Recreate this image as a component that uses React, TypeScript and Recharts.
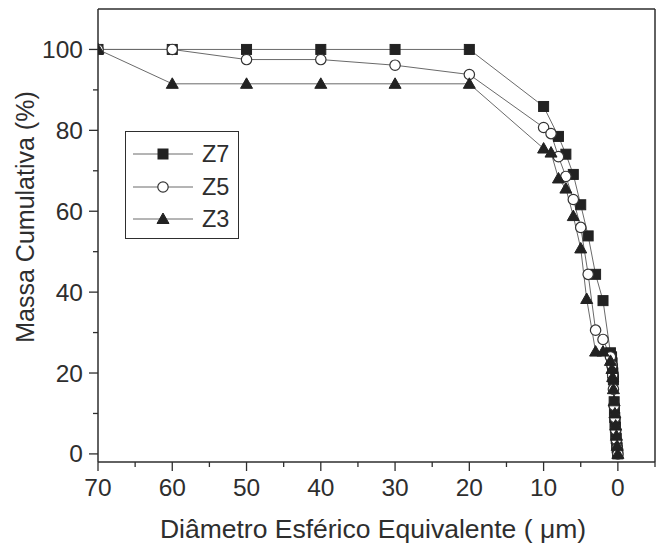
import React from "react";
import { LineChart, Line, XAxis, YAxis, ReferenceLine, Legend } from "recharts";

// diameter (µm) and cumulative mass (%) for each sample
const z7X = [70, 60, 50, 40, 30, 20, 10, 8, 7, 6, 5, 4, 3, 2, 1, 0.85, 0.78, 0.72, 0.68, 0.64, 0.6, 0.5, 0.46, 0.42, 0.38, 0.33, 0.28, 0.22, 0.16, 0.1, 0.05, 0];
const z7Y = [100, 100, 100, 100, 100, 100, 85.9, 78.5, 74.1, 69.1, 61.6, 53.9, 44.4, 37.9, 25, 24, 22.5, 21, 20, 19, 18.3, 12.9, 10.5, 9, 7.5, 6.6, 5, 3.8, 2.5, 1.5, 0.7, 0];

const z5X = [70, 60, 50, 40, 30, 20, 10, 9, 8, 7, 6, 5, 4, 3, 2, 1, 0.8, 0.7, 0.6, 0.5, 0.4, 0.3, 0.2, 0.1, 0];
const z5Y = [100, 100, 97.5, 97.5, 96.1, 93.8, 80.7, 79.2, 73.5, 68.6, 62.9, 56, 44.4, 30.6, 28.3, 24, 22, 19.5, 16, 12, 9, 6, 3.5, 1.5, 0];

const z3X = [70, 60, 50, 40, 30, 20, 10, 9, 8, 7, 6, 5, 4.2, 3, 2, 1, 0.8, 0.7, 0.6, 0.5, 0.4, 0.3, 0.2, 0.1, 0];
const z3Y = [100, 91.5, 91.5, 91.5, 91.5, 91.5, 75.5, 74.5, 68.1, 65.6, 58.8, 50.8, 38.3, 25.3, 25.3, 23, 21, 19, 16, 13, 10, 7, 4.5, 2, 0];

const xTicks = [70, 65, 60, 55, 50, 45, 40, 35, 30, 25, 20, 15, 10, 5, 0, -5];
const xLabels = [70, 60, 50, 40, 30, 20, 10, 0];
const yTicks = [0, 10, 20, 30, 40, 50, 60, 70, 80, 90, 100];
const yLabels = [0, 20, 40, 60, 80, 100];

const zip = (xs: number[], ys: number[]) => xs.map((x, i) => ({ x, y: ys[i] }));

const FONT = "'Liberation Sans', Arial, sans-serif";
const INK = "#2e2e2e";
const LINE = "#6a6a6a";

type Shape = "square" | "circle" | "triangle";

const series: { name: string; shape: Shape; data: { x: number; y: number }[] }[] = [
  { name: "Z7", shape: "square", data: zip(z7X, z7Y) },
  { name: "Z5", shape: "circle", data: zip(z5X, z5Y) },
  { name: "Z3", shape: "triangle", data: zip(z3X, z3Y) },
];

function Marker({ shape, cx, cy }: { shape: Shape; cx: number; cy: number }) {
  if (shape === "square") {
    return <rect x={cx - 5} y={cy - 5} width={10} height={10} fill="#222" stroke="#222" strokeWidth={1} />;
  }
  if (shape === "circle") {
    return <circle cx={cx} cy={cy} r={5.2} fill="#fff" stroke="#333" strokeWidth={1.2} />;
  }
  return (
    <polygon
      points={`${cx},${cy - 6} ${cx + 6},${cy + 4.5} ${cx - 6},${cy + 4.5}`}
      fill="#222"
      stroke="#222"
      strokeWidth={1}
    />
  );
}

const dotFor = (shape: Shape) => (props: any) => {
  const { cx, cy, index } = props;
  if (cx == null || cy == null) return <g key={index} />;
  return (
    <g key={index}>
      <Marker shape={shape} cx={cx} cy={cy} />
    </g>
  );
};

function XTick(props: any) {
  const { x, y, payload } = props;
  const major = xLabels.includes(payload.value);
  return (
    <g>
      <line x1={x} y1={y} x2={x} y2={y + (major ? 9 : 5)} stroke={INK} strokeWidth={1.3} />
      {major && (
        <text x={x} y={y + 34} textAnchor="middle" fontSize={24.5} fill={INK} fontFamily={FONT}>
          {payload.value}
        </text>
      )}
    </g>
  );
}

function YTick(props: any) {
  const { x, y, payload } = props;
  const major = yLabels.includes(payload.value);
  return (
    <g>
      <line x1={x} y1={y} x2={x - (major ? 9 : 5)} y2={y} stroke={INK} strokeWidth={1.3} />
      {major && (
        <text x={x - 15} y={y + 8.5} textAnchor="end" fontSize={24.5} fill={INK} fontFamily={FONT}>
          {payload.value}
        </text>
      )}
    </g>
  );
}

function LegendBox() {
  return (
    <div
      style={{
        position: "relative",
        width: 112,
        height: 106,
        border: `1px solid ${INK}`,
        background: "#fff",
        fontFamily: FONT,
        fontSize: 23.5,
        color: INK,
      }}
    >
      {series.map((s, i) => (
        <div
          key={s.name}
          style={{ position: "absolute", left: 7, top: 6 + i * 32.5, height: 32, display: "flex", alignItems: "center" }}
        >
          <svg width={62} height={20} style={{ display: "block" }}>
            <line x1={0} y1={10} x2={60} y2={10} stroke={LINE} strokeWidth={1} />
            <Marker shape={s.shape} cx={30} cy={10} />
          </svg>
          <span style={{ marginLeft: 7, lineHeight: "32px" }}>{s.name}</span>
        </div>
      ))}
    </div>
  );
}

export default function App() {
  return (
    <div style={{ position: "absolute", left: 0, top: 0, background: "#fff" }}>
      <LineChart width={661} height={547} margin={{ top: 9, right: 6, bottom: 0, left: 0 }}>
        <XAxis
          type="number"
          dataKey="x"
          domain={[-5, 70]}
          reversed
          allowDataOverflow
          ticks={xTicks}
          interval={0}
          tickSize={0}
          tickMargin={0}
          tickLine={false}
          tick={<XTick />}
          axisLine={{ stroke: INK, strokeWidth: 1.5 }}
          height={85}
          label={{
            value: "Diâmetro Esférico Equivalente ( μm)",
            content: () => (
              <text x={373} y={538} textAnchor="middle" fontSize={26.5} fill={INK} fontFamily={FONT}>
                Diâmetro Esférico Equivalente ( μm)
              </text>
            ),
          }}
        />
        <YAxis
          type="number"
          dataKey="y"
          domain={[-2, 110]}
          allowDataOverflow
          ticks={yTicks}
          interval={0}
          tickSize={0}
          tickMargin={0}
          tickLine={false}
          tick={<YTick />}
          axisLine={{ stroke: INK, strokeWidth: 1.5 }}
          width={98}
          label={{
            value: "Massa Cumulativa (%)",
            content: () => (
              <text
                x={34}
                y={217}
                transform="rotate(-90 34 217)"
                textAnchor="middle"
                fontSize={25}
                fill={INK}
                fontFamily={FONT}
              >
                Massa Cumulativa (%)
              </text>
            ),
          }}
        />
        <ReferenceLine y={110} stroke={INK} strokeWidth={1.5} />
        <ReferenceLine x={-5} stroke={INK} strokeWidth={1.5} />
        {series.map((s) => (
          <Line
            key={s.name}
            name={s.name}
            data={s.data}
            dataKey="y"
            stroke={LINE}
            strokeWidth={1}
            dot={dotFor(s.shape)}
            activeDot={false}
            isAnimationActive={false}
          />
        ))}
        <Legend
          layout="vertical"
          align="center"
          verticalAlign="middle"
          content={() => <LegendBox />}
          wrapperStyle={{ position: "absolute", left: 125, top: 131, width: "auto", height: "auto" }}
        />
      </LineChart>
    </div>
  );
}
